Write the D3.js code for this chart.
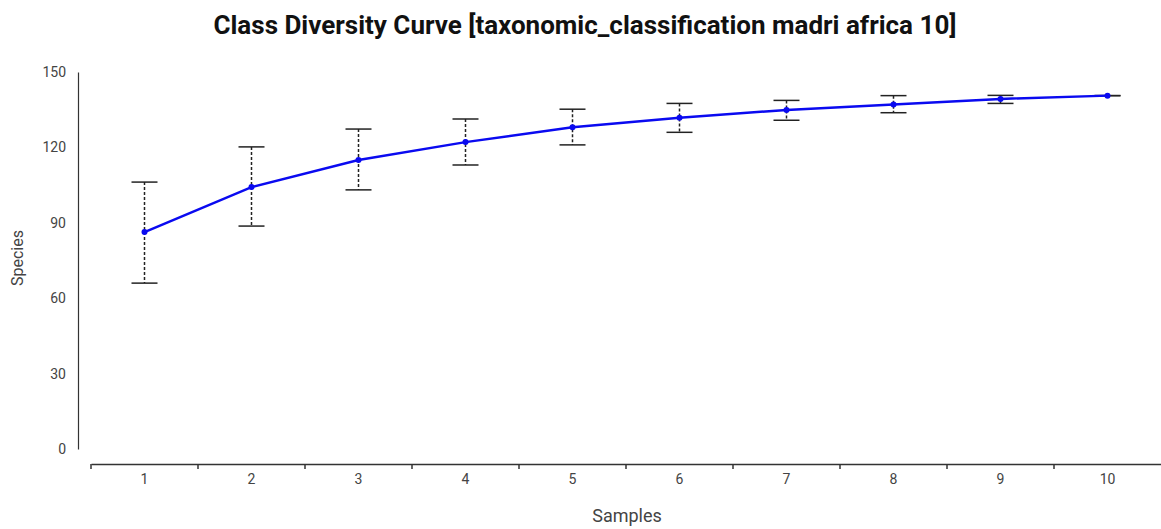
<!DOCTYPE html>
<html>
<head>
<meta charset="utf-8">
<script src="https://cdn.jsdelivr.net/npm/d3@7"></script>
<style>
  html, body { margin: 0; padding: 0; background: #fff; }
  svg { display: block; font-family: Roboto, "Noto Sans", sans-serif; }
</style>
</head>
<body>
<svg id="chart" width="1161" height="529"></svg>
<script>
const samples = [1, 2, 3, 4, 5, 6, 7, 8, 9, 10];
const meanSpecies = [86.3, 104.2, 115.0, 122.1, 128.0, 131.8, 134.9, 137.1, 139.3, 140.6];
const upperSpecies = [106.2, 120.2, 127.3, 131.3, 135.2, 137.5, 138.7, 140.6, 140.7, 140.6];
const lowerSpecies = [66.0, 88.7, 103.1, 113.0, 121.0, 126.0, 130.8, 133.8, 137.5, 140.6];
const yTicks = [0, 30, 60, 90, 120, 150];

const titleText = "Class Diversity Curve [taxonomic_classification madri africa 10]";

const svg = d3.select("#chart");

const x = d3.scaleBand().domain(samples).range([91, 1161]).padding(0);
const y = d3.scaleLinear().domain([0, 150]).range([449, 72]);

// Title
svg.append("text")
  .attr("x", 585).attr("y", 34)
  .attr("text-anchor", "middle")
  .attr("font-size", 26).attr("font-weight", "bold")
  .attr("fill", "#111")
  .text(titleText);

// Y axis
const yAxis = svg.append("g")
  .attr("transform", "translate(78,0)")
  .call(d3.axisLeft(y).tickValues(yTicks).tickSize(0).tickPadding(12));
yAxis.select(".domain").attr("stroke", "#333").attr("stroke-width", 1.2);
yAxis.selectAll("text").attr("font-size", 14).attr("fill", "#444")
  .attr("font-family", "Roboto, sans-serif");

// X axis
const xAxis = svg.append("g")
  .attr("transform", "translate(0,464)")
  .call(d3.axisBottom(x).tickSize(0).tickPadding(10).tickSizeOuter(0));
xAxis.select(".domain").attr("stroke", "#333").attr("stroke-width", 1.5);
xAxis.selectAll("text").attr("font-size", 14).attr("fill", "#444")
  .attr("font-family", "Roboto, sans-serif");
xAxis.selectAll(".boundTick")
  .data(samples)
  .enter().append("line")
  .attr("class", "boundTick")
  .attr("x1", d => x(d)).attr("x2", d => x(d))
  .attr("y1", 0).attr("y2", 5)
  .attr("stroke", "#333").attr("stroke-width", 1.5);

// Axis titles
svg.append("text")
  .attr("x", 627).attr("y", 522)
  .attr("text-anchor", "middle")
  .attr("font-size", 18).attr("fill", "#444")
  .text("Samples");
svg.append("text")
  .attr("transform", "translate(23,258) rotate(-90)")
  .attr("text-anchor", "middle")
  .attr("font-size", 16).attr("fill", "#444")
  .text("Species");

const cx = d => x(d) + x.bandwidth() / 2;
const capHalf = 13;

// Error bars
const eb = svg.append("g").attr("class", "errorbars");
samples.forEach((s, i) => {
  const g = eb.append("g");
  g.append("line")
    .attr("x1", cx(s)).attr("x2", cx(s))
    .attr("y1", y(upperSpecies[i])).attr("y2", y(lowerSpecies[i]))
    .attr("stroke", "#222").attr("stroke-width", 1.5)
    .attr("stroke-dasharray", "3,2");
  [upperSpecies[i], lowerSpecies[i]].forEach(v => {
    g.append("line")
      .attr("x1", cx(s) - capHalf).attr("x2", cx(s) + capHalf)
      .attr("y1", y(v)).attr("y2", y(v))
      .attr("stroke", "#222").attr("stroke-width", 1.5);
  });
});

// Line
const line = d3.line()
  .x((d, i) => cx(samples[i]))
  .y(d => y(d));
svg.append("path")
  .datum(meanSpecies)
  .attr("d", line)
  .attr("fill", "none")
  .attr("stroke", "#0a0af0")
  .attr("stroke-width", 2.5);

svg.selectAll(".pt")
  .data(meanSpecies)
  .enter().append("circle")
  .attr("class", "pt")
  .attr("cx", (d, i) => cx(samples[i]))
  .attr("cy", d => y(d))
  .attr("r", 3)
  .attr("fill", "#0a0af0");
</script>
</body>
</html>
